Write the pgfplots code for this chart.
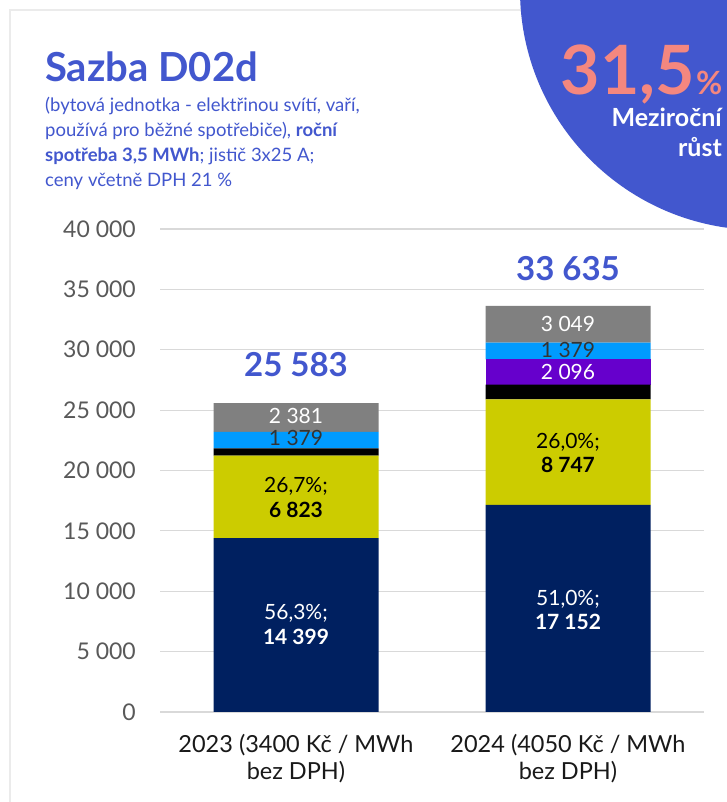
\documentclass[border=0pt]{standalone}
\usepackage{pgfplots}
\pgfplotsset{compat=1.18}
\usepackage{fontspec}
\setmainfont{Lato}
\definecolor{tblue}{HTML}{4257CE}
\definecolor{navy}{HTML}{002060}
\definecolor{ylw}{HTML}{CCCC00}
\definecolor{sky}{HTML}{009BFF}
\definecolor{purp}{HTML}{6600CC}
\definecolor{gry}{HTML}{808080}
\definecolor{salmon}{HTML}{F4877F}
\definecolor{ticklab}{HTML}{595959}
\definecolor{darklab}{HTML}{333333}
\tikzset{lb/.style={anchor=base, inner sep=0pt, font=\fontsize{21}{25}\selectfont}}
\begin{document}
\begin{tikzpicture}[x=1pt,y=1pt]
\useasboundingbox (0,0) rectangle (727,802);
\fill[white] (0,0) rectangle (727,802);
\draw[black!8, line width=1.5pt] (10,0) -- (10,792) -- (727,792);
\begin{scope}
\clip (0,0) rectangle (727,802);
\fill[tblue] (760,812) circle (240);
\end{scope}
% title
\node[anchor=base west, inner sep=0pt, text=tblue, font=\fontsize{40}{44}\selectfont\bfseries] at (45,720) {Sazba D02d};
\begin{scope}[every node/.style={anchor=base west, inner sep=0pt, text=tblue, font=\fontsize{18.5}{25}\selectfont}]
\node at (45,690) {(bytová jednotka - elektřinou svítí, vaří,};
\node at (45,665) {používá pro běžné spotřebiče), \textbf{roční}};
\node at (45,640) {\textbf{spotřeba 3,5 MWh}; jistič 3x25 A;};
\node at (45,615) {ceny včetně DPH 21 \%};
\end{scope}
% circle text
\node[anchor=base east, inner sep=0pt, text=salmon, font=\fontsize{68}{70}\selectfont\bfseries] at (695,707) {31,5};
\node[anchor=base west, inner sep=0pt, text=salmon, font=\fontsize{32}{34}\selectfont\bfseries] at (696,707) {\%};
\node[anchor=base east, inner sep=0pt, text=white, font=\fontsize{25}{28}\selectfont\bfseries] at (722,675) {Meziroční};
\node[anchor=base east, inner sep=0pt, text=white, font=\fontsize{25}{28}\selectfont\bfseries] at (722,645) {růst};

\begin{axis}[at={(160pt,90pt)}, anchor=south west, scale only axis,
  width=544pt, height=483pt,
  xmin=-0.5, xmax=1.5, ymin=0, ymax=40000,
  ybar stacked, bar width=165pt,
  axis line style={draw=none}, major tick length=0pt,
  ytick={0,5000,...,40000}, ymajorgrids,
  grid style={line width=1.2pt, color=black!15},
  xtick={0,1},
  xticklabels={{2023 (3400 Kč / MWh\\bez DPH)},{2024 (4050 Kč / MWh\\bez DPH)}},
  xticklabel style={align=center, anchor=north, inner sep=0pt, yshift=-22pt,
    font=\fontsize{23.5}{27}\selectfont, text=black!90},
  yticklabel style={anchor=east, inner sep=0pt, xshift=-24pt,
    font=\fontsize{23}{27}\selectfont, text=ticklab},
  scaled y ticks=false, clip=false,
  /pgf/number format/.cd, 1000 sep={\ }, assume math mode=true,
]
\addplot[fill=navy, draw=none] coordinates {(0,14399) (1,17152)};
\addplot[fill=ylw, draw=none] coordinates {(0,6823) (1,8747)};
\addplot[fill=black, draw=none] coordinates {(0,601) (1,1212)};
\addplot[fill=purp, draw=none] coordinates {(0,0) (1,2096)};
\addplot[fill=sky, draw=none] coordinates {(0,1379) (1,1379)};
\addplot[fill=gry, draw=none] coordinates {(0,2381) (1,3049)};
% label anchor positions (segment centres)
\coordinate (a1) at (axis cs:0,7619);
\coordinate (a2) at (axis cs:1,8861);
\coordinate (b1) at (axis cs:0,5549);
\coordinate (b2) at (axis cs:1,6791);
\coordinate (c1) at (axis cs:0,18137);
\coordinate (c2) at (axis cs:1,21863);
\coordinate (d1) at (axis cs:0,16066);
\coordinate (d2) at (axis cs:1,19793);
\coordinate (e1) at (axis cs:0,22029);
\coordinate (e2) at (axis cs:1,29317);
\coordinate (f1) at (axis cs:0,23851);
\coordinate (f2) at (axis cs:1,31470);
\coordinate (g2) at (axis cs:1,27495);
\coordinate (t1) at (axis cs:0,27743);
\coordinate (t2) at (axis cs:1,35694);
\end{axis}
\node[lb, text=white] at (a1) {56,3\%;};
\node[lb, text=white] at (a2) {51,0\%;};
\node[lb, text=white, font=\fontsize{21}{25}\selectfont\bfseries] at (b1) {14 399};
\node[lb, text=white, font=\fontsize{21}{25}\selectfont\bfseries] at (b2) {17 152};
\node[lb, text=black] at (c1) {26,7\%;};
\node[lb, text=black] at (c2) {26,0\%;};
\node[lb, text=black, font=\fontsize{21}{25}\selectfont\bfseries] at (d1) {6 823};
\node[lb, text=black, font=\fontsize{21}{25}\selectfont\bfseries] at (d2) {8 747};
\node[lb, text=darklab] at (e1) {1 379};
\node[lb, text=darklab] at (e2) {1 379};
\node[lb, text=white] at (f1) {2 381};
\node[lb, text=white] at (f2) {3 049};
\node[lb, text=white] at (g2) {2 096};
\node[lb, text=tblue, font=\fontsize{33}{36}\selectfont\bfseries] at (t1) {25 583};
\node[lb, text=tblue, font=\fontsize{33}{36}\selectfont\bfseries] at (t2) {33 635};
\end{tikzpicture}
\end{document}
